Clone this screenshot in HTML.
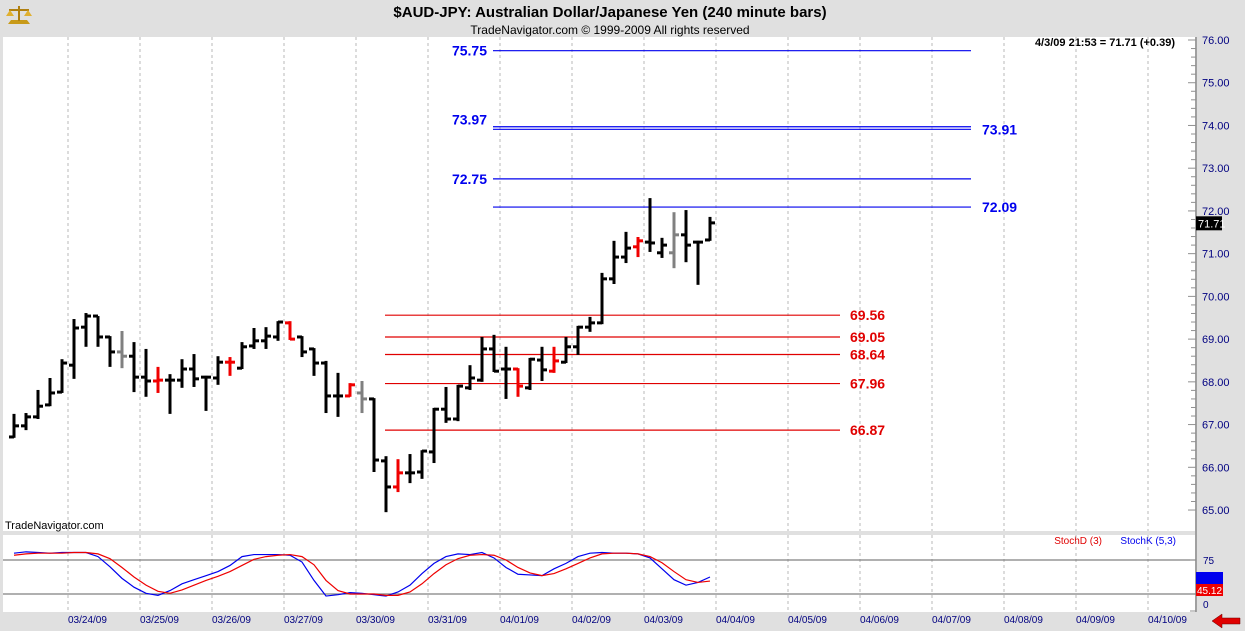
<!DOCTYPE html>
<html><head><meta charset="utf-8"><style>
html,body{margin:0;padding:0;background:#e0e0e0;}
svg{display:block;font-family:"Liberation Sans",sans-serif;}
</style></head><body>
<svg id="c" width="1245" height="631" xmlns="http://www.w3.org/2000/svg">
<rect x="0" y="0" width="1245" height="631" fill="#e0e0e0"/>
<rect x="3" y="37" width="1193" height="494" fill="#fff"/>
<rect x="3" y="535" width="1193" height="77" fill="#fff"/>
<line x1="1196" y1="37" x2="1196" y2="612" stroke="#a0a0a0" stroke-width="2"/>
<g>
<path d="M8 24 L30 24 L27 20 L11 20 Z" fill="#c89a18"/><rect x="18" y="6" width="2" height="15" fill="#b08010"/>
<path d="M9 10 L29 10" stroke="#b08010" stroke-width="2"/><path d="M6 16 L10 10 L14 16 Z M24 16 L28 10 L32 16 Z" fill="#e0b030"/>
</g>
<text x="610" y="17" text-anchor="middle" font-size="15" font-weight="bold" fill="#000">$AUD-JPY:  Australian Dollar/Japanese Yen  (240 minute bars)</text>
<text x="610" y="34" text-anchor="middle" font-size="12" fill="#000">TradeNavigator.com © 1999-2009 All rights reserved</text>
<text x="1175" y="46" text-anchor="end" font-size="11" font-weight="bold" fill="#000">4/3/09 21:53 = 71.71 (+0.39)</text>
<text x="5" y="529" font-size="11" fill="#000">TradeNavigator.com</text>
<text x="1102" y="544" text-anchor="end" font-size="10" fill="#e00000">StochD (3)</text>
<text x="1176" y="544" text-anchor="end" font-size="10" fill="#0000ee">StochK (5,3)</text>
<g id="grid"></g><g id="axis"></g><g id="levels"></g><g id="bars"></g><g id="stoch"></g><g id="dates"></g>
<path d="M1212 621 L1222 614 L1222 618 L1240 618 L1240 624 L1222 624 L1222 628 Z" fill="#e00000" stroke="#600" stroke-width="0.5"/>
</svg>
<script>
const opens=[66.71,66.97,67.18,67.46,67.76,68.39,69.28,69.54,69.05,68.70,68.60,68.11,68.02,68.04,68.04,68.30,68.11,68.09,68.46,68.32,68.84,68.96,69.05,69.38,69.05,68.77,68.44,67.67,67.67,67.74,67.60,66.15,65.54,65.87,65.89,66.36,67.36,67.13,67.86,68.04,68.77,68.30,68.30,67.86,68.51,68.25,68.46,68.82,69.28,69.38,70.41,70.92,71.16,71.27,71.02,71.02,71.44,71.27,71.32];
const highs=[67.25,67.27,67.81,68.09,68.53,69.47,69.61,69.54,69.07,69.19,68.93,68.77,68.35,68.18,68.53,68.65,68.14,68.60,68.58,68.93,69.26,69.28,69.42,69.42,69.07,68.79,68.49,68.21,67.97,68.02,67.62,66.26,66.19,66.31,66.40,67.39,67.88,67.93,68.39,69.05,69.10,68.82,68.32,68.56,68.82,68.82,69.05,69.31,69.52,70.55,71.30,71.51,71.39,72.30,71.37,71.97,72.02,71.30,71.86];
const lows=[66.69,66.87,67.13,67.43,67.74,68.07,68.82,68.82,68.35,68.32,67.76,67.65,67.74,67.25,67.86,67.88,67.32,67.93,68.14,68.30,68.77,68.77,68.96,68.98,68.58,68.14,67.27,67.18,67.65,67.27,65.89,64.95,65.42,65.63,65.73,66.10,67.04,67.08,67.81,68.00,68.23,67.60,67.65,67.81,68.02,68.21,68.44,68.63,69.17,69.35,70.29,70.78,70.92,71.04,70.90,70.66,70.80,70.27,71.30];
const closes=[66.97,67.18,67.43,67.74,68.44,69.26,69.54,69.05,68.70,68.60,68.11,68.02,68.04,68.04,68.30,68.07,68.11,68.46,68.46,68.82,68.96,69.07,69.40,69.00,68.70,68.44,67.67,67.67,67.93,67.60,66.17,65.54,65.87,65.87,66.38,67.36,67.13,67.90,68.09,68.77,68.25,68.30,67.90,68.53,68.28,68.49,68.82,69.28,69.38,70.41,70.92,71.13,71.30,71.25,71.20,71.44,71.20,71.27,71.72];
const barColors="kkkkkkkkkgkkrkkkkkrkkkkrkkkkrgkkrkkkkkkkkkrkkrkkkkkkrkkgkkk";
const stochK=[85,87,86,85,86,86,86,80,65,48,35,26,23,30,40,46,52,58,67,80,83,83,83,82,72,45,22,24,27,26,24,22,28,38,55,70,80,84,83,86,78,64,54,53,52,62,70,80,85,86,85,85,84,78,62,46,38,42,50];
const stochD=[82,84,85,85,85,86,86,84,77,64,50,38,29,26,31,38,45,51,58,67,76,80,82,83,80,68,45,30,25,25,25,23,23,28,40,55,68,77,82,83,82,75,64,56,52,55,62,70,78,84,85,85,84,80,71,58,46,42,44];
const blueLevels=[75.75,73.97,73.91,72.75,72.09];
const blueLabels=["75.75","73.97","73.91","72.75","72.09"];
const blueSide=["L","L","R","L","R"];
const redLevels=[69.56,69.05,68.64,67.96,66.87];
const redLabels=["69.56","69.05","68.64","67.96","66.87"];
const priceTicks=[76,75,74,73,72,71,70,69,68,67,66,65];
const dateLabels=["03/24/09","03/25/09","03/26/09","03/27/09","03/30/09","03/31/09","04/01/09","04/02/09","04/03/09","04/04/09","04/05/09","04/06/09","04/07/09","04/08/09","04/09/09","04/10/09"];
const stochTicks=[75,0];
const stochLines=[75,25];

const NS="http://www.w3.org/2000/svg";
function mk(tag,attrs,parent,name,inter){const e=document.createElementNS(NS,tag);for(const k in attrs)e.setAttribute(k,attrs[k]);


document.getElementById(parent).appendChild(e);return e;}
const py=p=>40+(76-p)*42.73;
const bx=i=>14+12*i;
const sy=v=>611-v*0.68;
const gx=i=>68+72*i;

dateLabels.forEach((d,i)=>{
 mk('line',{x1:gx(i),y1:37,x2:gx(i),y2:531,stroke:'#b8b8b8','stroke-dasharray':'3,3'},'grid','grid-line',false);
 mk('line',{x1:gx(i),y1:535,x2:gx(i),y2:612,stroke:'#b8b8b8','stroke-dasharray':'3,3'},'grid','stoch-grid-line',false);
 const t=mk('text',{x:gx(i),y:623,'font-size':10,fill:'#000080'},'dates','date-label',false);t.textContent=d;
});
for(let v=65;v<=76.001;v+=0.2){const y=py(v);const major=Math.abs(v-Math.round(v))<0.01;
 mk('line',{x1:major?1188:1191,y1:y,x2:1196,y2:y,stroke:'#909090'},'axis','axis-tick',false);}
priceTicks.forEach(v=>{const t=mk('text',{x:1202,y:py(v)+4,'font-size':11,fill:'#000080'},'axis','price-tick-label',false);t.textContent=v.toFixed(2);});
mk('rect',{x:1196,y:py(71.71)-7,width:26,height:14,fill:'#000'},'axis','last-price-box',false);
const lp=mk('text',{x:1198,y:py(71.71)+4,'font-size':11,fill:'#fff'},'axis','last-price-label',false);lp.textContent="71.71";
blueLevels.forEach((v,i)=>{const y=py(v);
 mk('line',{x1:493,y1:y,x2:971,y2:y,stroke:'#0000ee','stroke-width':1.2},'levels','fib-level-blue',false);
 const t=mk('text',{x:blueSide[i]=='L'?487:982,y:y+(blueSide[i]=='L'&&i==1?-2:5),'text-anchor':blueSide[i]=='L'?'end':'start','font-size':14,'font-weight':'bold',fill:'#0000ee'},'levels','fib-label-blue',false);
 t.textContent=blueLabels[i];});
redLevels.forEach((v,i)=>{const y=py(v);
 mk('line',{x1:385,y1:y,x2:840,y2:y,stroke:'#e00000','stroke-width':1.2},'levels','fib-level-red',false);
 const t=mk('text',{x:850,y:y+5,'font-size':14,'font-weight':'bold',fill:'#e00000'},'levels','fib-label-red',false);t.textContent=redLabels[i];});
opens.forEach((o,i)=>{const x=bx(i);const c=barColors[i]=='r'?'#f00000':barColors[i]=='g'?'#808080':'#000';
 mk('line',{x1:x,y1:py(highs[i]),x2:x,y2:py(lows[i]),stroke:c,'stroke-width':3},'bars','price-bar',false);
 mk('line',{x1:x-5,y1:py(o),x2:x,y2:py(o),stroke:c,'stroke-width':3},'bars','bar-open-tick',false);
 mk('line',{x1:x,y1:py(closes[i]),x2:x+5,y2:py(closes[i]),stroke:c,'stroke-width':3},'bars','bar-close-tick',false);});
stochLines.forEach(v=>mk('line',{x1:3,y1:sy(v),x2:1196,y2:sy(v),stroke:'#808080','stroke-width':1.3},'stoch','stoch-ref-line',false));
stochTicks.forEach(v=>{mk('line',{x1:1190,y1:sy(v),x2:1196,y2:sy(v),stroke:'#909090'},'stoch','stoch-tick',false);
 const t=mk('text',{x:1203,y:sy(v)+(v==0?-3:4),'font-size':10,fill:'#000080'},'stoch','stoch-tick-label',false);t.textContent=v;});
mk('polyline',{points:stochK.map((v,i)=>bx(i)+','+sy(v)).join(' '),fill:'none',stroke:'#0000ee','stroke-width':1.2},'stoch','stochk-line',false);
mk('polyline',{points:stochD.map((v,i)=>bx(i)+','+sy(v)).join(' '),fill:'none',stroke:'#ee0000','stroke-width':1.2},'stoch','stochd-line',false);
mk('rect',{x:1196,y:572,width:27,height:12,fill:'#0000ee'},'stoch','stochk-value-box',false);
mk('rect',{x:1196,y:584,width:27,height:12,fill:'#ee0000'},'stoch','stochd-value-box',false);
const dv=mk('text',{x:1197,y:594,'font-size':10,fill:'#fff'},'stoch','stochd-value',false);dv.textContent="45.12";
</script>
</body></html>
